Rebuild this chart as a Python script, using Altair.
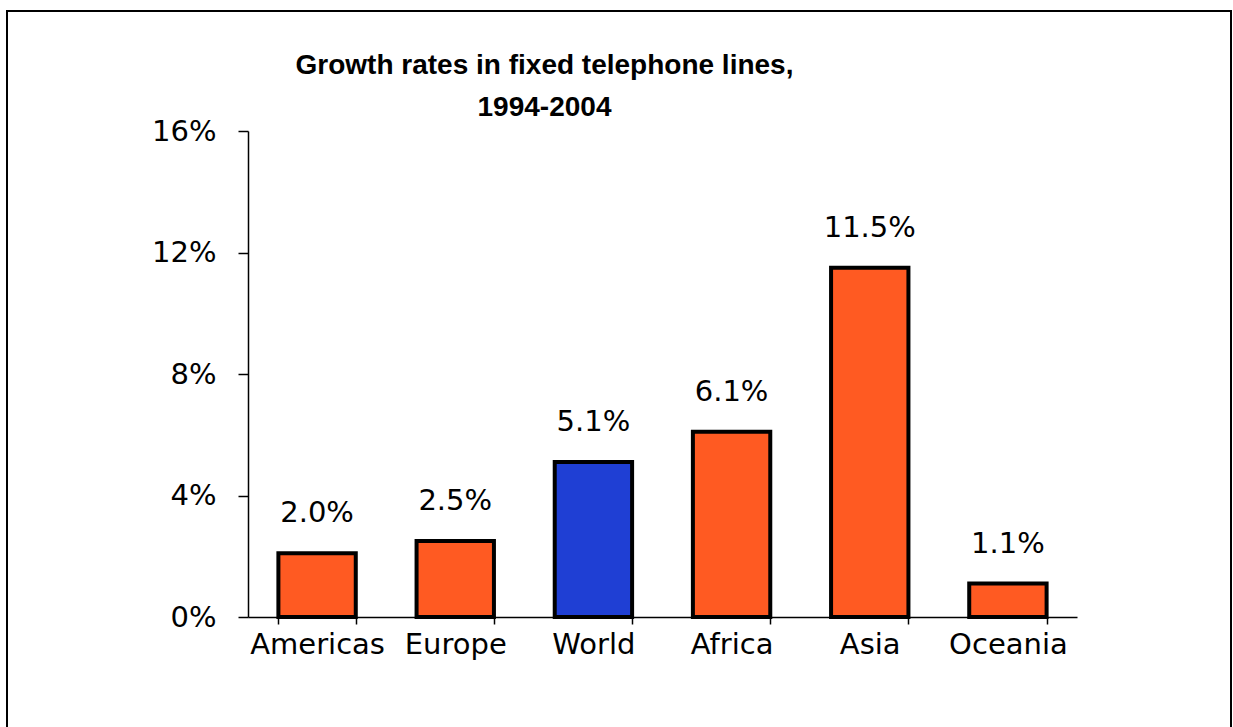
import altair as alt
import pandas as pd

regions = ["Americas", "Europe", "World", "Africa", "Asia", "Oceania"]
growth = [2.1, 2.5, 5.1, 6.1, 11.5, 1.1]
value_labels = ["2.0%", "2.5%", "5.1%", "6.1%", "11.5%", "1.1%"]
is_world = ["no", "no", "yes", "no", "no", "no"]
y_ticks = [0, 4, 8, 12, 16]

df = pd.DataFrame({"region": regions, "growth": growth, "label": value_labels, "world": is_world})

LABEL_FONT = "DejaVu Sans"

x_enc = alt.X("region:N", sort=regions, title=None,
              scale=alt.Scale(paddingInner=0.44, paddingOuter=0.22),
              axis=alt.Axis(labelAngle=0, labelFontSize=29, labelFont=LABEL_FONT, labelColor="black",
                            tickSize=7, tickColor="black", tickWidth=1.5, tickBand="extent",
                            domainColor="black", domainWidth=1.5, labelPadding=6))
y_enc = alt.Y("growth:Q", title=None,
              scale=alt.Scale(domain=[0, 16], nice=False),
              axis=alt.Axis(values=y_ticks, labelExpr="datum.value + '%'", grid=False,
                            labelFontSize=29, labelFont=LABEL_FONT, labelColor="black",
                            tickSize=10, tickColor="black", tickWidth=1.5,
                            domainColor="black", domainWidth=1.5, labelPadding=22))

base = alt.Chart(df)

bars = base.mark_bar(stroke="black", strokeWidth=4).encode(
    x=x_enc, y=y_enc,
    color=alt.Color("world:N", scale=alt.Scale(domain=["no", "yes"], range=["#FF5A22", "#1F3FD4"]), legend=None),
)

texts = base.mark_text(dy=-40, baseline="middle", fontSize=29, font=LABEL_FONT, color="black").encode(
    x=alt.X("region:N", sort=regions), y=alt.Y("growth:Q"), text="label:N"
)

frame = alt.Chart(pd.DataFrame({"k": [0]})).mark_rect(fill=None, stroke="black", strokeWidth=2).encode(
    x=alt.value(-241), x2=alt.value(983), y=alt.value(-120), y2=alt.value(640)
)

chart = alt.layer(frame, bars, texts).properties(
    width=829, height=486,
    autosize=alt.AutoSizeParams(type="none"),
    padding={"left": 248, "top": 131, "right": 156, "bottom": 110},
    title=alt.TitleParams(["Growth rates in fixed telephone lines,", "1994-2004"],
                          font="Liberation Sans", fontSize=28, fontWeight="bold", color="black",
                          anchor="middle", frame="group", dx=-118, dy=112, lineHeight=42, offset=0),
).configure(background="white", view=alt.ViewConfig(stroke=None))

chart.save("out.html", embed_options={"renderer": "svg", "actions": False})
